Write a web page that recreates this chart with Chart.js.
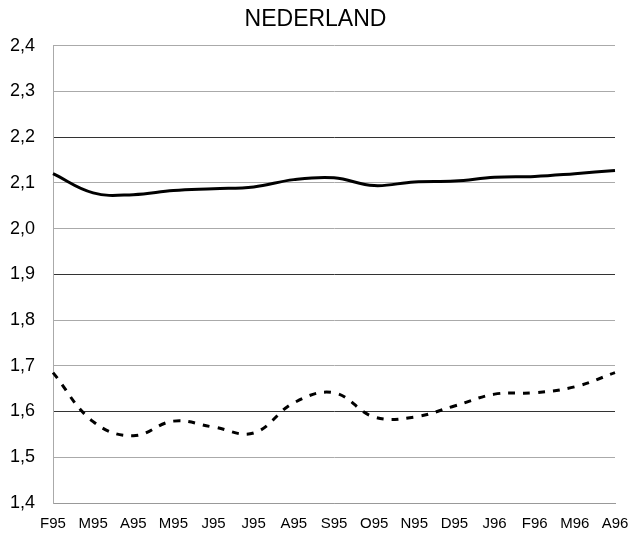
<!DOCTYPE html>
<html>
<head>
<meta charset="utf-8">
<script src="https://cdn.jsdelivr.net/npm/chart.js@4"></script>
<style>
  html, body { margin: 0; padding: 0; background: #fff; }
  #wrap { width: 631px; height: 540px; }
</style>
</head>
<body>
<div id="wrap"><canvas id="chart"></canvas></div>
<script>
// months Feb 1995 - Apr 1996
var months = ["F95", "M95", "A95", "M95", "J95", "J95", "A95", "S95", "O95", "N95", "D95", "J96", "F96", "M96", "A96"]
var upper = [2.120, 2.078, 2.074, 2.083, 2.087, 2.091, 2.107, 2.111, 2.094, 2.102, 2.104, 2.112, 2.114, 2.120, 2.127]
var lower = [1.685, 1.578, 1.547, 1.579, 1.566, 1.553, 1.619, 1.641, 1.588, 1.588, 1.612, 1.638, 1.641, 1.654, 1.685]
var darkLines = [2.2, 1.9, 1.6]

var font = "'Liberation Sans', Arial, Helvetica, sans-serif"

new Chart(document.getElementById("chart"), {
  type: 'line',
  data: {
    labels: months,
    datasets: [
      {
        data: upper,
        borderColor: "#000",
        borderWidth: 3,
        pointRadius: 0,
        tension: 0.4,
        fill: false
      },
      {
        data: lower,
        borderColor: "#000",
        borderWidth: 3,
        borderDash: [7, 8],
        pointRadius: 0,
        tension: 0.4,
        fill: false
      }
    ]
  },
  options: {
    responsive: true,
    maintainAspectRatio: false,
    animation: false,
    layout: { padding: 0 },
    plugins: {
      legend: { display: false },
      tooltip: { enabled: false },
      title: {
        display: true,
        text: "NEDERLAND",
        color: "#000",
        font: { family: font, size: 23, weight: 'normal' },
        padding: { top: 6, bottom: 12 }
      }
    },
    scales: {
      x: {
        offset: false,
        grid: { display: false, drawTicks: false },
        border: { display: true, color: "#999", width: 1 },
        ticks: {
          color: "#000",
          font: { family: font, size: 15 },
          padding: 12,
          maxRotation: 0,
          autoSkip: false
        },
        afterFit: function (s) {
          s.height = 37
          s.paddingLeft = 0
          s.paddingRight = 16
        }
      },
      y: {
        min: 1.4,
        max: 2.4,
        grid: {
          drawTicks: false,
          lineWidth: 1,
          color: function (ctx) {
            var v = ctx.tick ? Math.round(ctx.tick.value * 10) / 10 : 0
            return darkLines.indexOf(v) >= 0 ? "#333" : "#aaa"
          }
        },
        border: { display: true, color: "#aaa", width: 1 },
        ticks: {
          stepSize: 0.1,
          color: "#000",
          font: { family: font, size: 18 },
          padding: 18,
          callback: function (v) { return v.toFixed(1).replace('.', ',') }
        },
        afterFit: function (s) { s.width = 53 }
      }
    }
  }
});
</script>
</body>
</html>
